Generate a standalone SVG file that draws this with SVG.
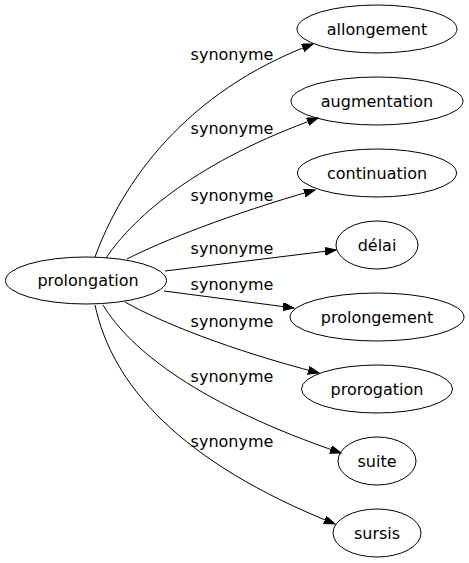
<svg xmlns="http://www.w3.org/2000/svg" width="469" height="563" viewBox="0 0 469 563">
<style>
.node ellipse{fill:none;stroke:#000;stroke-width:1}
text{font-family:"DejaVu Sans",sans-serif;font-size:16px;fill:#000;text-anchor:middle}
.edges path{fill:none;stroke:#000;stroke-width:1}
</style>
<defs>
<marker id="arr" markerUnits="userSpaceOnUse" markerWidth="12" markerHeight="10" refX="11" refY="4" orient="auto">
<path d="M0,0 L11,4 L0,8 z" fill="#000" stroke="#000" stroke-width="1"/>
</marker>
</defs>
<rect width="469" height="563" fill="#fff"/>
<g class="edges">
<path d="M95,257 C122,183 185,92 313,44" marker-end="url(#arr)"/>
<path d="M106,258 C135,215 200,160 318,118" marker-end="url(#arr)"/>
<path d="M127,259 C160,242 230,214 315,190" marker-end="url(#arr)"/>
<path d="M165,271 L336,250" marker-end="url(#arr)"/>
<path d="M164,291 L294,308" marker-end="url(#arr)"/>
<path d="M125,302 C160,322 230,350 319,373" marker-end="url(#arr)"/>
<path d="M103,305 C130,350 200,405 341,453" marker-end="url(#arr)"/>
<path d="M95,305 C112,385 180,462 335,524" marker-end="url(#arr)"/>
<text x="232" y="60">synonyme</text>
<text x="232" y="134">synonyme</text>
<text x="232" y="201">synonyme</text>
<text x="232" y="254">synonyme</text>
<text x="232" y="290">synonyme</text>
<text x="232" y="327">synonyme</text>
<text x="232" y="382">synonyme</text>
<text x="232" y="447">synonyme</text>
</g>
<g id="prolongation" class="node"><ellipse cx="86" cy="280.5" rx="80.5" ry="23.5"/><text x="88" y="286">prolongation</text></g>
<g id="allongement" class="node"><ellipse cx="377" cy="29" rx="80" ry="24"/><text x="377" y="34.5">allongement</text></g>
<g id="augmentation" class="node"><ellipse cx="377" cy="101" rx="86" ry="24"/><text x="377" y="106.5">augmentation</text></g>
<g id="continuation" class="node"><ellipse cx="377" cy="173" rx="79.5" ry="24"/><text x="377" y="178.5">continuation</text></g>
<g id="delai" class="node"><ellipse cx="377" cy="245" rx="41" ry="24"/><text x="377" y="250.5">délai</text></g>
<g id="prolongement" class="node"><ellipse cx="377" cy="317" rx="87" ry="24"/><text x="377" y="322.5">prolongement</text></g>
<g id="prorogation" class="node"><ellipse cx="377" cy="389" rx="75.5" ry="24"/><text x="377" y="394.5">prorogation</text></g>
<g id="suite" class="node"><ellipse cx="377" cy="461" rx="39" ry="24"/><text x="377" y="466.5">suite</text></g>
<g id="sursis" class="node"><ellipse cx="377" cy="533" rx="44" ry="24"/><text x="377" y="538.5">sursis</text></g>
</svg>
